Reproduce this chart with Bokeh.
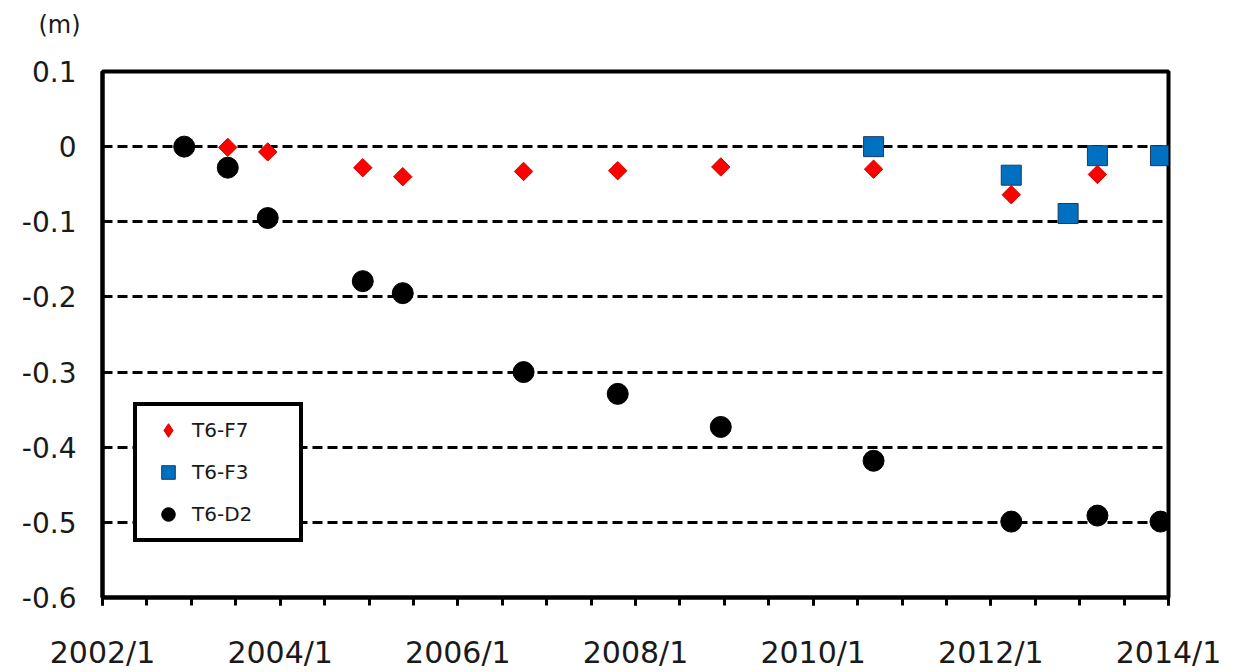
import math
from bokeh.plotting import figure
from bokeh.models import FixedTicker, Legend, LegendItem, Range1d, LinearAxis
from bokeh.embed import file_html
from bokeh.resources import INLINE

# ---- data (decimal years, metres) ----
d2_x = [2002.92, 2003.41, 2003.86, 2004.93, 2005.38, 2006.74, 2007.80, 2008.96, 2010.68, 2012.23, 2013.20, 2013.91]
d2_y = [0.000, -0.028, -0.095, -0.179, -0.195, -0.300, -0.329, -0.373, -0.418, -0.499, -0.491, -0.499]

f7_x = [2003.41, 2003.86, 2004.93, 2005.38, 2006.74, 2007.80, 2008.96, 2010.68, 2012.23, 2013.20]
f7_y = [-0.001, -0.007, -0.028, -0.040, -0.033, -0.032, -0.027, -0.030, -0.064, -0.037]

f3_x = [2010.68, 2012.23, 2012.87, 2013.20, 2013.91]
f3_y = [0.000, -0.038, -0.089, -0.012, -0.012]

x_major = [2002, 2004, 2006, 2008, 2010, 2012, 2014]
x_labels = ["2002/1", "2004/1", "2006/1", "2008/1", "2010/1", "2012/1", "2014/1"]
y_ticks = [0.1, 0.0, -0.1, -0.2, -0.3, -0.4, -0.5, -0.6]
y_labels = ["0.1", "0", "-0.1", "-0.2", "-0.3", "-0.4", "-0.5", "-0.6"]

FONT = "DejaVu Sans"
TXT = "#1a1a1a"

p = figure(width=1234, height=672, output_backend="svg", toolbar_location=None,
           x_range=Range1d(2002, 2014), y_range=Range1d(-0.6, 0.1),
           min_border_left=102, min_border_right=66, min_border_top=71, min_border_bottom=74)
p.background_fill_color = "white"
p.border_fill_color = "white"
p.outline_line_color = "black"
p.outline_line_width = 4
p.outline_line_alpha = 1

xax = p.below[0]
yax = p.left[0]

# invisible spacer between frame and the unit label (one hidden tick, empty label)
spacer = LinearAxis(ticker=FixedTicker(ticks=[2008], minor_ticks=[]), major_tick_out=26, major_tick_in=0,
                    axis_line_color=None, major_tick_line_color=None, minor_tick_line_color=None,
                    minor_tick_out=0, major_label_standoff=0,
                    major_label_overrides={2008: ""}, major_label_text_font_size="1px")
p.add_layout(spacer, "above")

# unit label
p.title.text = "(m)"
p.title.align = "left"
p.title.vertical_align = "top"
p.title.offset = -64
p.title.standoff = 10
p.title.text_font = FONT
p.title.text_font_size = "24px"
p.title.text_font_style = "normal"
p.title.text_color = TXT

# axes
for ax in (xax, yax):
    ax.axis_line_color = "black"
    ax.axis_line_width = 4
    ax.major_tick_line_color = "black"
    ax.major_tick_line_width = 3
    ax.minor_tick_line_color = "black"
    ax.minor_tick_line_width = 3
    ax.major_label_text_font = FONT
    ax.major_label_text_color = TXT

xax.ticker = FixedTicker(ticks=x_major, minor_ticks=[2002 + 0.5 * i for i in range(25)])
xax.major_label_overrides = {v: s for v, s in zip(x_major, x_labels)}
xax.major_tick_in = 0
xax.major_tick_out = 8
xax.minor_tick_in = 0
xax.minor_tick_out = 8
xax.major_label_text_font_size = "30px"
xax.major_label_standoff = 29

yax.ticker = FixedTicker(ticks=y_ticks, minor_ticks=[])
yax.major_label_overrides = {v: s for v, s in zip(y_ticks, y_labels)}
yax.major_tick_in = 5
yax.major_tick_out = 0
yax.minor_tick_in = 0
yax.minor_tick_out = 0
yax.major_label_text_font_size = "28px"
yax.major_label_standoff = 26

p.xgrid.grid_line_color = None
p.ygrid.ticker = FixedTicker(ticks=[0.0, -0.1, -0.2, -0.3, -0.4, -0.5])
p.ygrid.grid_line_color = "black"
p.ygrid.grid_line_width = 3
p.ygrid.grid_line_dash = "10 5"

# glyphs (draw order: circles, squares, diamonds)
r_d2 = p.scatter(d2_x, d2_y, marker="circle", size=21, fill_color="black", line_color="black")
r_f3 = p.scatter(f3_x, f3_y, marker="square", size=20, fill_color="#0070c0", line_color="#1f3864", line_width=1)
# narrow diamond used for the legend swatch (fully covered by the rotated squares below)
r_f7_leg = p.scatter(f7_x, f7_y, marker="diamond", size=13, fill_color="#ff0000", line_color="#d00000", line_width=1)
r_f7 = p.scatter(f7_x, f7_y, marker="square", angle=math.pi / 4, size=13, fill_color="#ff0000", line_color="#d00000", line_width=1)

legend = Legend(items=[LegendItem(label="T6-F7", renderers=[r_f7_leg]),
                       LegendItem(label="T6-F3", renderers=[r_f3]),
                       LegendItem(label="T6-D2", renderers=[r_d2])],
                location=(31, 55))
legend.border_line_color = "black"
legend.border_line_width = 4
legend.border_line_alpha = 1
legend.background_fill_color = "white"
legend.background_fill_alpha = 1
legend.padding = 7
legend.margin = 0
legend.spacing = 8
legend.glyph_height = 34
legend.glyph_width = 48
legend.label_height = 34
legend.label_width = 100
legend.label_standoff = 0
legend.label_text_font = FONT
legend.label_text_font_size = "20px"
legend.label_text_color = TXT
p.add_layout(legend, "center")

open("out.html", "w").write(file_html(p, INLINE))
